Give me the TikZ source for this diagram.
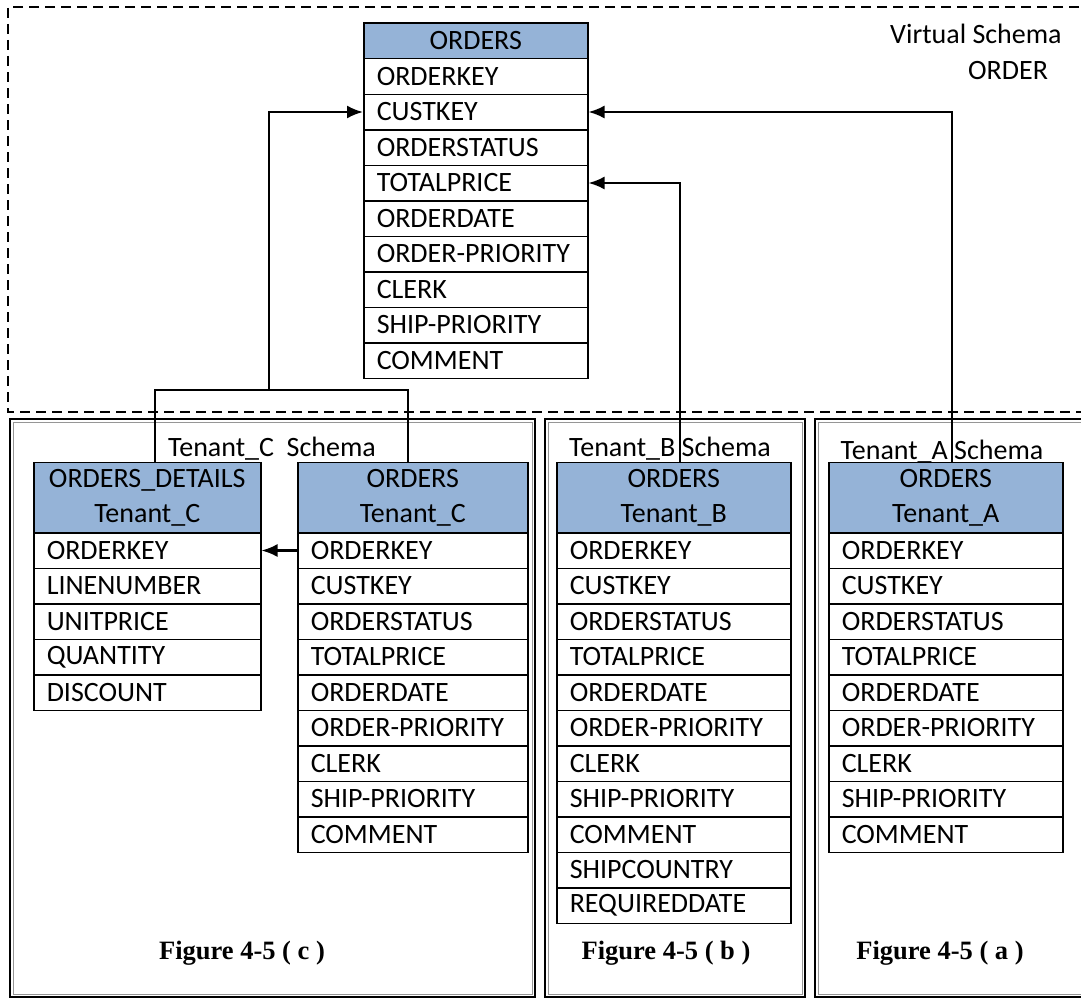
\documentclass[tikz,border=0pt]{standalone}
\usepackage{fontspec}
\setmainfont{Carlito}
\newfontfamily\capfont{Liberation Serif}
\usetikzlibrary{arrows.meta}
\definecolor{hdrblue}{RGB}{149,179,215}
\definecolor{shadegray}{RGB}{150,150,150}
\newcommand\tabfont{\fontsize{28pt}{35pt}\selectfont}
\begin{document}
\begin{tikzpicture}[x=1pt,y=-1pt,
  cell/.style={draw=black, line width=1.5pt, fill=white, anchor=north west,
    minimum height=35.5pt, inner xsep=13pt, inner ysep=0pt, align=left, font=\tabfont},
  hdr/.style={draw=black, line width=1.5pt, fill=hdrblue, anchor=north west,
    inner sep=0pt, align=center, font=\tabfont},
  lbl/.style={anchor=base, inner sep=0pt, font=\tabfont},
  figcap/.style={anchor=base, inner sep=0pt, font=\capfont\bfseries\fontsize{26.5pt}{30pt}\selectfont},
  conn/.style={line width=2.2pt},
  arr/.style={conn, -{Latex[length=16pt,width=13pt]}},
  frameline/.style={line width=2pt},
  frameshade/.style={draw=shadegray, line width=1pt}
]
\useasboundingbox (0,0) rectangle (1081,998);
\clip (0,0) rectangle (1081,998);

% virtual schema dashed region
\draw[line width=2.2pt, dash pattern=on 10pt off 6pt] (1095,7) -- (8,7) -- (8,412) -- (1095,412);
\node[anchor=base west, inner sep=0pt, font=\tabfont] (vs1) at (890,44) {Virtual Schema};
\node[anchor=base west, inner sep=0pt, font=\tabfont] (vs2) at (968,79) {ORDER};

% tenant frames
\foreach \a/\b in {10/535, 545/805, 815/1100} {
  \draw[frameline] (\a,419) rectangle (\b,997);
  \draw[frameshade] ({\a+3},422) rectangle ({\b-3},994);
}

% schema labels (drawn before tables)
\node[lbl] (lc) at (272,456) {Tenant\_C\ \ Schema};
\node[lbl] (lb) at (670,456) {Tenant\_B Schema};
\node[lbl] (la) at (942,459) {Tenant\_A Schema};

% virtual ORDERS table
\node[hdr, minimum width=224pt, minimum height=35.5pt] (vh) at (363,22.5) {ORDERS};
\foreach \n [count=\i] in {ORDERKEY,CUSTKEY,ORDERSTATUS,TOTALPRICE,ORDERDATE,ORDER-PRIORITY,CLERK,SHIP-PRIORITY,COMMENT}
  \node[cell, text width=198pt] (v\i) at (363,{58+35.5*(\i-1)}) {\n};

% Tenant C : ORDERS_DETAILS
\node[hdr, minimum width=227pt, minimum height=70.5pt] (dh) at (33,461.5) {ORDERS\_DETAILS\\Tenant\_C};
\foreach \n [count=\i] in {ORDERKEY,LINENUMBER,UNITPRICE,QUANTITY,DISCOUNT}
  \node[cell, text width=201pt] (d\i) at (33,{532+35.5*(\i-1)}) {\n};

% Tenant C : ORDERS
\node[hdr, minimum width=230pt, minimum height=70.5pt] (ch) at (297,461.5) {ORDERS\\Tenant\_C};
\foreach \n [count=\i] in {ORDERKEY,CUSTKEY,ORDERSTATUS,TOTALPRICE,ORDERDATE,ORDER-PRIORITY,CLERK,SHIP-PRIORITY,COMMENT}
  \node[cell, text width=204pt] (c\i) at (297,{532+35.5*(\i-1)}) {\n};

% Tenant B : ORDERS
\node[hdr, minimum width=234pt, minimum height=70.5pt] (bh) at (556,461.5) {ORDERS\\Tenant\_B};
\foreach \n [count=\i] in {ORDERKEY,CUSTKEY,ORDERSTATUS,TOTALPRICE,ORDERDATE,ORDER-PRIORITY,CLERK,SHIP-PRIORITY,COMMENT,SHIPCOUNTRY,REQUIREDDATE}
  \node[cell, text width=208pt] (b\i) at (556,{532+35.5*(\i-1)}) {\n};

% Tenant A : ORDERS
\node[hdr, minimum width=234pt, minimum height=70.5pt] (ah) at (828,461.5) {ORDERS\\Tenant\_A};
\foreach \n [count=\i] in {ORDERKEY,CUSTKEY,ORDERSTATUS,TOTALPRICE,ORDERDATE,ORDER-PRIORITY,CLERK,SHIP-PRIORITY,COMMENT}
  \node[cell, text width=208pt] (a\i) at (828,{532+35.5*(\i-1)}) {\n};

% figure captions
\node[figcap] (fc) at (242,959) {Figure 4-5 ( c )};
\node[figcap] (fb) at (666,959) {Figure 4-5 ( b )};
\node[figcap] (fa) at (940,959) {Figure 4-5 ( a )};

% connectors
\coordinate (cL) at (155,390);
\coordinate (cM) at (269,390);
\coordinate (cR) at (408,390);
\coordinate (bx) at (680,0);
\coordinate (ax) at (952,0);
\draw[conn] (dh.north -| cL) -- (cL) -- (cR) -- (ch.north -| cR);
\draw[arr] (cM) |- (v2.west);
\draw[arr] (bh.north -| bx) |- (v4.east);
\draw[arr] (ah.north -| ax) |- (v2.east);
\draw[arr] (c1.west) -- (d1.east);
\end{tikzpicture}
\end{document}
